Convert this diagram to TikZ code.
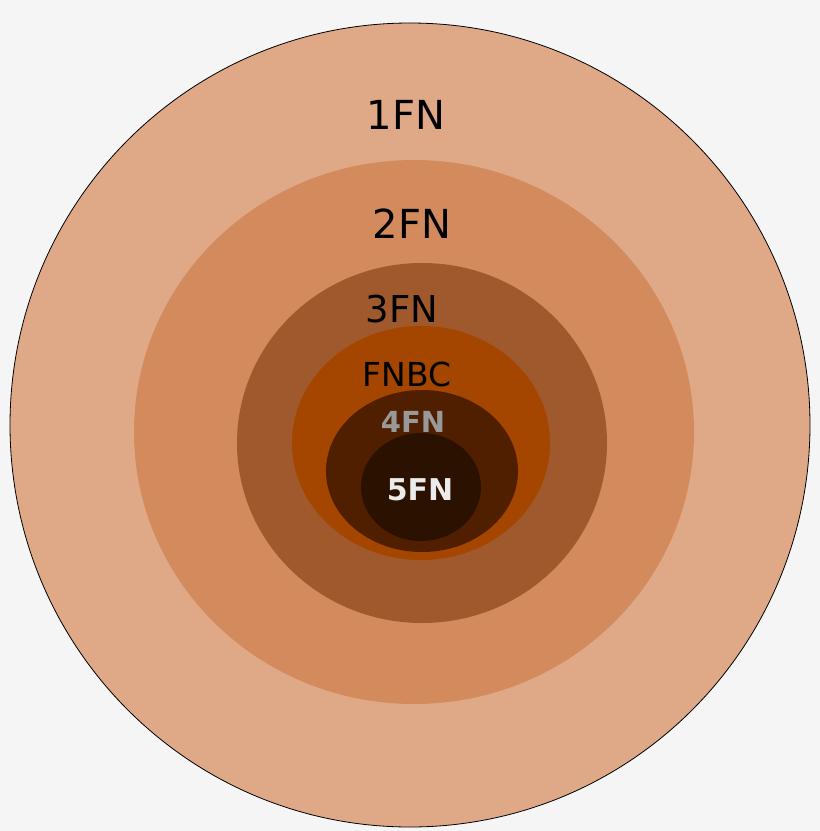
\documentclass[tikz,border=0pt]{standalone}
\usepackage{fontspec}
\setmainfont{DejaVu Sans}
\definecolor{bg}{HTML}{F5F5F5}
\definecolor{c1}{HTML}{DFA988}
\definecolor{c2}{HTML}{D38B5D}
\definecolor{c3}{HTML}{A0592C}
\definecolor{c4}{HTML}{A44500}
\definecolor{c5}{HTML}{501F00}
\definecolor{c6}{HTML}{2B1100}
\begin{document}
\begin{tikzpicture}[x=1pt,y=-1pt,lbl/.style={inner sep=0pt,anchor=base}]
\fill[bg] (0,0) rectangle (820,831);
\useasboundingbox (0,0) rectangle (820,831);
\filldraw[fill=c1,draw=black,line width=0.8pt] (410,425) ellipse [x radius=400,y radius=402];
\fill[c2] (414,432) ellipse [x radius=280,y radius=272];
\fill[c3] (422,443) ellipse [x radius=185,y radius=180];
\fill[c4] (421,443) ellipse [x radius=129,y radius=117];
\fill[c5] (422,471) ellipse [x radius=96,y radius=81];
\fill[c6] (421,487) ellipse [x radius=60,y radius=54];
\node[lbl,font=\fontsize{40}{40}\selectfont] (t1) at (406,129) {1FN};
\node[lbl,font=\fontsize{40}{40}\selectfont] (t2) at (412,238) {2FN};
\node[lbl,font=\fontsize{37}{37}\selectfont] (t3) at (402,322) {3FN};
\node[lbl,font=\fontsize{33}{33}\selectfont] (t4) at (407,386) {FNBC};
\node[lbl,font=\bfseries\fontsize{29}{29}\selectfont,text=black!40] (t5) at (413,432) {4FN};
\node[lbl,font=\bfseries\fontsize{30}{30}\selectfont,text=black!8] (t6) at (420,500) {5FN};
\end{tikzpicture}
\end{document}
